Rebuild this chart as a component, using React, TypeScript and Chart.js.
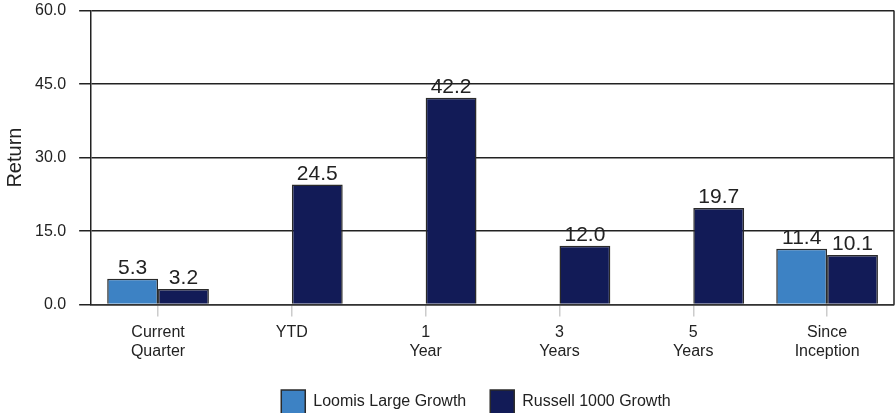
import React, { useEffect, useRef } from 'react';
import { Chart, registerables } from 'chart.js';

Chart.register(...registerables);

// Chart data
const categories: string[][] = [
  ['Current', 'Quarter'],
  ['YTD'],
  ['1', 'Year'],
  ['3', 'Years'],
  ['5', 'Years'],
  ['Since', 'Inception'],
];
const loomisReturns: (number | null)[] = [5.3, null, null, null, null, 11.4];
const russellReturns: (number | null)[] = [3.2, 24.5, 42.2, 12.0, 19.7, 10.1];
const yTicks: number[] = [0, 15, 30, 45, 60];

const FONT = '"Liberation Sans", Arial, Helvetica, sans-serif';
const TEXT = '#222222';

// Draws value labels above each bar
const valueLabels = {
  id: 'valueLabels',
  afterDatasetsDraw(chart: Chart) {
    const ctx = chart.ctx;
    ctx.save();
    ctx.font = `21px ${FONT}`;
    ctx.fillStyle = TEXT;
    ctx.textAlign = 'center';
    ctx.textBaseline = 'alphabetic';
    chart.data.datasets.forEach((ds, i) => {
      const meta = chart.getDatasetMeta(i);
      meta.data.forEach((bar: any, j: number) => {
        const v = ds.data[j] as number | null;
        if (v === null || v === undefined) return;
        ctx.fillText(v.toFixed(1), bar.x, bar.y - 5);
      });
    });
    ctx.restore();
  },
};

// Closes the plot frame on the right side and nudges the legend right
const frameAndLegend = {
  id: 'frameAndLegend',
  afterLayout(chart: any) {
    if (chart.legend) {
      chart.legend.left += 29;
      chart.legend.right += 29;
    }
  },
  afterDraw(chart: Chart) {
    const { ctx, chartArea } = chart;
    ctx.save();
    ctx.strokeStyle = '#222';
    ctx.lineWidth = 1.5;
    ctx.beginPath();
    ctx.moveTo(chartArea.right, chartArea.top);
    ctx.lineTo(chartArea.right, chartArea.bottom);
    ctx.stroke();
    ctx.restore();
  },
};

const App: React.FC = () => {
  const canvasRef = useRef<HTMLCanvasElement>(null);
  const chartRef = useRef<Chart | null>(null);

  useEffect(() => {
    if (!canvasRef.current) return;
    if (chartRef.current) chartRef.current.destroy();

    chartRef.current = new Chart(canvasRef.current, {
      type: 'bar',
      data: {
        labels: categories,
        datasets: [
          {
            label: 'Loomis Large Growth',
            data: loomisReturns,
            backgroundColor: '#3d82c4',
            borderColor: '#2a2a2a',
            borderWidth: 1.5,
            categoryPercentage: 0.76,
            barPercentage: 1,
          },
          {
            label: 'Russell 1000 Growth',
            data: russellReturns,
            backgroundColor: '#121b57',
            borderColor: '#2a2a2a',
            borderWidth: 1.5,
            categoryPercentage: 0.76,
            barPercentage: 1,
          },
        ],
      },
      options: {
        responsive: false,
        animation: false,
        layout: { padding: { top: 0, right: 1, left: 0, bottom: 0 } },
        plugins: {
          tooltip: { enabled: false },
          legend: {
            position: 'bottom',
            labels: {
              boxWidth: 24,
              boxHeight: 24,
              padding: 24,
              color: TEXT,
              font: { family: FONT, size: 16 },
            },
          },
        },
        scales: {
          x: {
            grid: {
              offset: false,
              drawOnChartArea: false,
              color: '#cccccc',
              lineWidth: 1.5,
              tickLength: 12,
            },
            border: { color: '#333', width: 1.5 },
            ticks: {
              color: TEXT,
              padding: 6,
              font: { family: FONT, size: 16 },
            },
            afterFit: (axis: any) => {
              axis.height -= 1;
            },
          },
          y: {
            min: 0,
            max: 60,
            afterBuildTicks: (axis: any) => {
              axis.ticks = yTicks.map((v) => ({ value: v }));
            },
            grid: { color: '#222', lineWidth: 1.5, tickLength: 12 },
            border: { color: '#222', width: 1.5 },
            ticks: {
              color: TEXT,
              padding: 13,
              font: { family: FONT, size: 16 },
              callback: (v: any) => Number(v).toFixed(1),
            },
            title: {
              display: true,
              text: 'Return',
              color: TEXT,
              padding: { top: 3, bottom: -5 },
              font: { family: FONT, size: 20 },
            },
          },
        },
      },
      plugins: [valueLabels, frameAndLegend],
    });

    return () => {
      if (chartRef.current) {
        chartRef.current.destroy();
        chartRef.current = null;
      }
    };
  }, []);

  return (
    <div style={{ position: 'absolute', left: 0, top: 0, width: 895, height: 413, overflow: 'hidden', background: '#fff' }}>
      <canvas
        ref={canvasRef}
        width={895}
        height={436}
        style={{ display: 'block', position: 'relative', top: -12 }}
      />
    </div>
  );
};

export default App;
